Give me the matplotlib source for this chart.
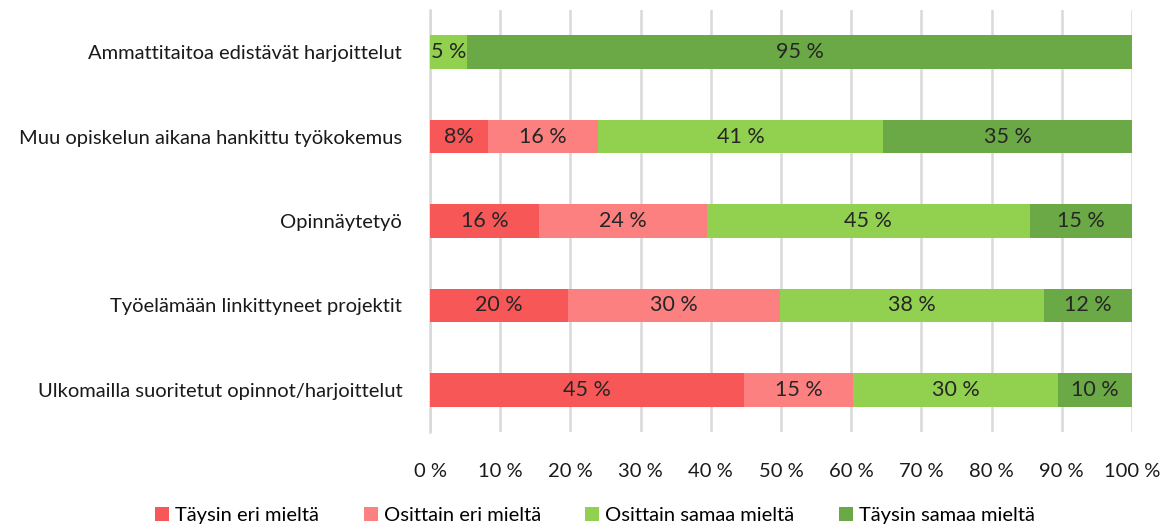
import numpy as np
import matplotlib
matplotlib.use("Agg")
import matplotlib.pyplot as plt
from matplotlib.ticker import FixedLocator

plt.rcParams["font.family"] = ["Lato", "DejaVu Sans"]

# Kategoriat ylhäältä alas
categories = [
    "Ammattitaitoa edistävät harjoittelut",
    "Muu opiskelun aikana hankittu työkokemus",
    "Opinnäytetyö",
    "Työelämään linkittyneet projektit",
    "Ulkomailla suoritetut opinnot/harjoittelut",
]
series_names = ["Täysin eri mieltä", "Osittain eri mieltä",
                "Osittain samaa mieltä", "Täysin samaa mieltä"]

# osuudet (%) luettu kuvasta
taysin_eri = [0.0, 8.2, 15.5, 19.7, 44.8]
osittain_eri = [0.0, 15.7, 23.9, 30.2, 15.5]
osittain_samaa = [5.3, 40.7, 46.1, 37.6, 29.2]
taysin_samaa = [94.7, 35.4, 14.5, 12.5, 10.5]

# datalabelit kuten alkuperäisessä
labels_taysin_eri = ["", "8%", "16 %", "20 %", "45 %"]
labels_osittain_eri = ["", "16 %", "24 %", "30 %", "15 %"]
labels_osittain_samaa = ["5 %", "41 %", "45 %", "38 %", "30 %"]
labels_taysin_samaa = ["95 %", "35 %", "15 %", "12 %", "10 %"]

xticks = [0, 10, 20, 30, 40, 50, 60, 70, 80, 90, 100]
xticklabels = [f"{t} %" for t in xticks]

colors = ["#F85757", "#FC8080", "#92D050", "#6AA945"]

series = [taysin_eri, osittain_eri, osittain_samaa, taysin_samaa]
labels = [labels_taysin_eri, labels_osittain_eri,
          labels_osittain_samaa, labels_taysin_samaa]

fig = plt.figure(figsize=(11.76, 5.26), dpi=100)
ax = fig.add_axes([430 / 1176, 1 - 432 / 526, 702 / 1176, 422 / 526])

y = np.arange(len(categories))
left = np.zeros(len(categories))
for vals, labs, col, name in zip(series, labels, colors, series_names):
    vals = np.asarray(vals)
    bars = ax.barh(y, vals, left=left, height=0.4, color=col, label=name,
                   zorder=3)
    for b, lab in zip(bars, labs):
        if lab:
            ax.text(b.get_x() + b.get_width() / 2, b.get_y() + b.get_height() / 2,
                    lab, ha="center", va="center", fontsize=15.5,
                    color="#262626", zorder=4)
    left += vals

ax.set_xlim(0, 100)
ax.set_ylim(len(categories) - 0.5, -0.5)
ax.set_yticks(y)
ax.set_yticklabels(categories, fontsize=14.5, color="#1a1a1a")
ax.xaxis.set_major_locator(FixedLocator(xticks))
ax.set_xticklabels(xticklabels, fontsize=14.5, color="#1a1a1a")
ax.tick_params(axis="both", length=0)
ax.tick_params(axis="x", pad=22)
ax.tick_params(axis="y", pad=20)
ax.grid(axis="x", color="#D9D9D9", linewidth=1.8, zorder=0)
for s in ["top", "right", "bottom"]:
    ax.spines[s].set_visible(False)
ax.spines["left"].set_color("#D9D9D9")
ax.spines["left"].set_linewidth(1.8)

fig.legend(loc="lower center", bbox_to_anchor=(0.506, -0.03), ncol=4,
           frameon=False, fontsize=14.5, handlelength=0.7, handleheight=0.7,
           handletextpad=0.3, columnspacing=2.2)

fig.savefig("out.png", dpi=100)
